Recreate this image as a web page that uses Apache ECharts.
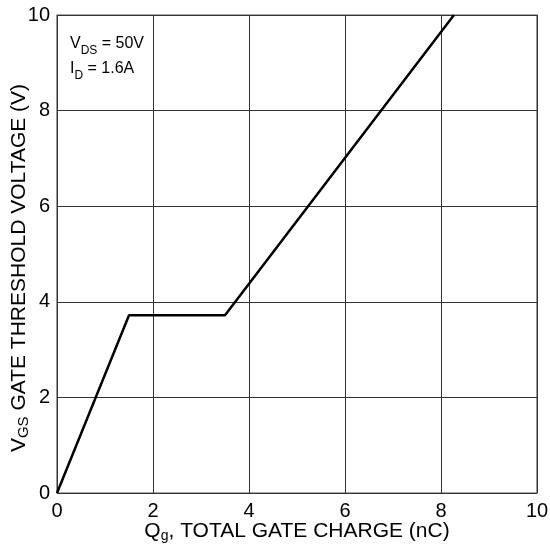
<!DOCTYPE html>
<html><head><meta charset="utf-8">
<script src="https://cdn.jsdelivr.net/npm/echarts@6/dist/echarts.min.js"></script>
<style>html,body{margin:0;padding:0;background:#fff}#c{width:550px;height:546px}</style>
</head><body><div id="c"></div>
<script>
const xTicks = [0, 2, 4, 6, 8, 10];
const yTicks = [0, 2, 4, 6, 8, 10];
const qg = [0, 1.5, 3.5, 8.27];
const vgs = [0, 3.72, 3.72, 10];

const chart = echarts.init(document.getElementById('c'));
const font = '"Liberation Sans", Arial, sans-serif';
chart.setOption({
  animation: false,
  grid: { left: 57, right: 13, top: 15, bottom: 53, show: true, borderColor: '#555', borderWidth: 1.2, outerBoundsMode: 'none', containLabel: false },
  xAxis: {
    type: 'value', min: 0, max: 10, interval: 2,
    name: '{n|Q}{s|g}{n|, TOTAL GATE CHARGE (nC)}',
    nameLocation: 'middle', nameGap: 27, nameMoveOverlap: false,
    nameTextStyle: { rich: { n: { fontSize: 21, fontFamily: font, color: '#000' }, s: { fontSize: 14, fontFamily: font, color: '#000', verticalAlign: 'bottom', padding: [9, 0, 0, 0] } } },
    axisLine: { show: false }, axisTick: { show: false },
    axisLabel: { fontSize: 20, fontFamily: font, color: '#000', margin: 8, formatter: v => xTicks.includes(v) ? String(v) : '' },
    splitLine: { show: true, lineStyle: { color: '#333', width: 1 } }
  },
  yAxis: {
    type: 'value', min: 0, max: 10, interval: 2,
    name: '{n|V}{s|GS}{n| GATE THRESHOLD VOLTAGE (V)}',
    nameLocation: 'middle', nameGap: 26, nameMoveOverlap: false,
    nameTextStyle: { padding: [0, 28, 0, 0], rich: { n: { fontSize: 21, fontFamily: font, color: '#000' }, s: { fontSize: 15, fontFamily: font, color: '#000', verticalAlign: 'bottom', padding: [9, 0, 0, 0] } } },
    axisLine: { show: false }, axisTick: { show: false },
    axisLabel: { fontSize: 20, fontFamily: font, color: '#000', margin: 7, formatter: v => yTicks.includes(v) ? String(v) : '' },
    splitLine: { show: true, lineStyle: { color: '#333', width: 1 } }
  },
  graphic: [{
    type: 'text', left: 70, top: 36,
    style: {
      text: '{n|V}{s|DS}{n| = 50V}\n{n|I}{s|D}{n| = 1.6A}',
      rich: { n: { fontSize: 16, fontFamily: font, fill: '#000', lineHeight: 25 }, s: { fontSize: 12, fontFamily: font, fill: '#000', verticalAlign: 'bottom', padding: [6, 0, 0, 0], lineHeight: 25 } }
    }
  }],
  series: [{
    type: 'line', data: qg.map((x, i) => [x, vgs[i]]),
    showSymbol: false, lineStyle: { color: '#000', width: 2.5 }
  }]
});
</script></body></html>
